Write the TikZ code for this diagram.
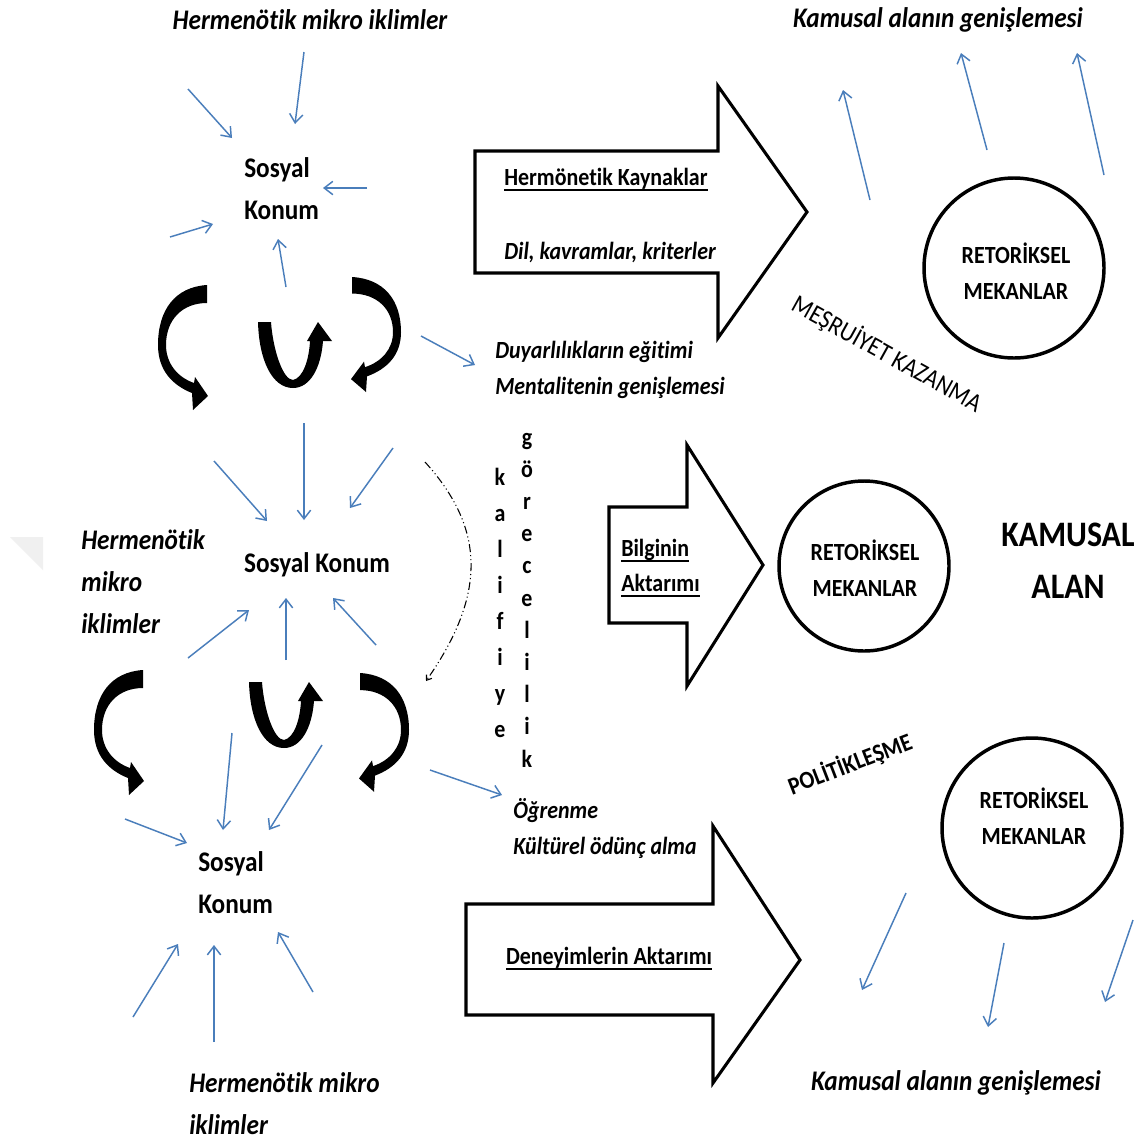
\documentclass[tikz,border=0pt]{standalone}
\usepackage{fontspec}
\setmainfont{Carlito}[FakeStretch=0.89,Ligatures={NoCommon}]
\usetikzlibrary{arrows.meta}
\definecolor{ablue}{HTML}{4A7EBB}
\newcommand\ulx[1]{\setbox0\hbox{#1}\rlap{\rule[-4.2pt]{\wd0}{1.5pt}}\box0}
\tikzset{
  barrow/.style={draw=ablue,line width=1.1pt,-{Straight Barb[length=6.5pt,width=10pt,line width=1.1pt]}},
  bigb/.style={inner sep=0pt,font=\fontsize{21.3}{31.5}\selectfont\bfseries,align=left},
  bigi/.style={inner sep=0pt,font=\fontsize{21.3}{31.5}\selectfont\bfseries\itshape,align=left},
  midb/.style={inner sep=0pt,font=\fontsize{18.5}{27}\selectfont\bfseries,align=left},
  midi/.style={inner sep=0pt,font=\fontsize{18.5}{27}\selectfont\bfseries\itshape,align=left},
  letter/.style={inner sep=0pt,font=\fontsize{18.5}{20}\selectfont\bfseries,anchor=base},
  bigarrow/.style={draw=black,line width=2.3pt,line join=miter,fill=white},
  circ/.style={draw=black,line width=2.6pt,circle,inner sep=0pt},
  carrow/.pic={
    \fill[black] (0,0) .. controls (-32,2) and (-49,25) .. (-49,60)
      .. controls (-49,85) and (-35,100) .. (-15,108) -- (-14,125) -- (1,111) -- (-12,92) -- (-13,98)
      .. controls (-30,92) and (-41,78) .. (-41,60) .. controls (-41,35) and (-25,18) .. (0,18) -- cycle;
  },
  uarrow/.pic={
    \fill[black] (0,0) -- (13,0) .. controls (15,28) and (25,58) .. (35,58)
      .. controls (45,56) and (51,38) .. (52,19) -- (49,19) -- (60,0) -- (74,19) -- (65,19)
      .. controls (63,46) and (52,66) .. (35,66) .. controls (14,66) and (1,38) .. (0,0) -- cycle;
  }
}
\begin{document}
\begin{tikzpicture}[x=0.75pt,y=-0.75pt]
\useasboundingbox (0,0) rectangle (1148,1146);
\fill[white] (0,0) rectangle (1148,1146);
% faint triangle
\fill[gray!12] (10,537) -- (43,537) -- (43,570) -- cycle;

% ---------- texts left ----------
\node[bigi] (h1) at (310,20) {Hermenötik mikro iklimler};
\node[bigb,anchor=west] (s1) at (244,189) {Sosyal\\Konum};
\node[midi,anchor=west] (d1) at (495,370) {Duyarlılıkların eğitimi\\Mentalitenin genişlemesi};
\node[bigb] (s2) at (317,565) {Sosyal Konum};
\node[bigi,anchor=west] (h2) at (81,582) {Hermenötik\\mikro\\iklimler};
\node[midi,anchor=west] (o1) at (513,828) {Öğrenme\\Kültürel ödünç alma};
\node[bigb,anchor=west] (s3) at (198,883) {Sosyal\\Konum};
\node[bigi,anchor=west] (h3) at (189,1104) {Hermenötik mikro\\iklimler};

% ---------- curved black arrows ----------
\pic at (207,285) {carrow};
\pic[xscale=-1,yscale=0.92] at (352,277) {carrow};
\pic at (258,322) {uarrow};
\pic at (143,670) {carrow};
\pic[xscale=-1,yscale=0.95] at (360,673) {carrow};
\pic at (249,682) {uarrow};

% ---------- blue arrows ----------
\foreach \a/\b/\c/\d in {
  188/89/232/138, 304/52/295/124, 367/188/323/188, 170/237/213/224, 286/287/278/239,
  421/336/475/365,
  214/461/267/521, 304/423/304/520, 393/448/350/508, 188/658/249/610, 286/660/286/598, 376/645/333/598,
  430/770/502/795,
  125/819/187/843, 232/733/223/830, 322/745/269/830, 133/1017/178/944, 214/1042/214/945, 313/992/278/932,
  870/200/843/90, 987/150/961/53, 1104/175/1077/53,
  906/893/862/990, 1004/943/988/1027, 1133/920/1105/1002}
  \draw[barrow] (\a,\b) -- (\c,\d);

% ---------- dash-dot curve ----------
\coordinate (dd1) at (425,462);
\coordinate (dd2) at (426,681);
\draw[line width=0.8pt,dash pattern=on 6pt off 2.2pt on 0.8pt off 2.2pt on 0.8pt off 2.2pt,
  -{Straight Barb[length=3.5pt,width=5pt]}]
  (dd1) .. controls (482,525) and (490,590) .. (dd2);

% ---------- vertical letters ----------
\foreach \l [count=\i from 0] in {k,a,l,i,f,i,y,e}
  \node[letter] (kl\i) at (500,485+36*\i) {\l};
\foreach \l [count=\i from 0] in {g,ö,r,e,c,e,l,i,l,i,k}
  \node[letter] (gl\i) at (527,445+32.2*\i) {\l};

% ---------- big arrows ----------
\draw[bigarrow] (475,151) -- (718,151) -- (718,86) -- (807,212) -- (718,338) -- (718,273) -- (475,273) -- cycle;
\node[midb,anchor=west] (a1t) at (504,180) {\ulx{Hermönetik Kaynaklar}};
\node[midi,anchor=west] (a1b) at (504,253) {Dil, kavramlar, kriterler};

\draw[bigarrow] (609,507) -- (687,507) -- (687,445) -- (763,565) -- (687,686) -- (687,623) -- (609,623) -- cycle;
\node[midb,anchor=west] (a2t) at (621,568) {\ulx{Bilginin}\\[-1pt]\ulx{Aktarımı}};

\draw[bigarrow] (466,904) -- (713,904) -- (713,826) -- (800,960) -- (713,1083) -- (713,1015) -- (466,1015) -- cycle;
\node[midb] (a3t) at (609,959) {\ulx{Deneyimlerin Aktarımı}};

% ---------- circles ----------
\node[circ,minimum size=180*0.75pt] (c1) at (1014,268) {};
\node[midb,align=center] (c1t) at (1016,271) {RETORİKSEL\\MEKANLAR};
\node[circ,minimum size=170*0.75pt] (c2) at (864,566) {};
\node[midb,align=center] (c2t) at (865,568) {RETORİKSEL\\MEKANLAR};
\node[circ,minimum size=180*0.75pt] (c3) at (1032,828) {};
\node[midb,align=center] (c3t) at (1034,816) {RETORİKSEL\\MEKANLAR};

% ---------- right texts ----------
\node[bigi] (k1) at (938,20) {Kamusal alanın genişlemesi};
\node[bigi] (k2) at (956,1083) {Kamusal alanın genişlemesi};
\node[inner sep=0pt,font=\fontsize{26.9}{39}\selectfont\bfseries,align=center] (ka) at (1068,561) {KAMUSAL\\ALAN};
\node[inner sep=0pt,font=\fontsize{19.6}{20}\selectfont,rotate=-29] (mk) at (887,354) {MEŞRUİYET KAZANMA};
\node[inner sep=0pt,font=\fontsize{18.5}{20}\selectfont\bfseries,rotate=21] (pl) at (850,764) {POLİTİKLEŞME};
\end{tikzpicture}
\end{document}
